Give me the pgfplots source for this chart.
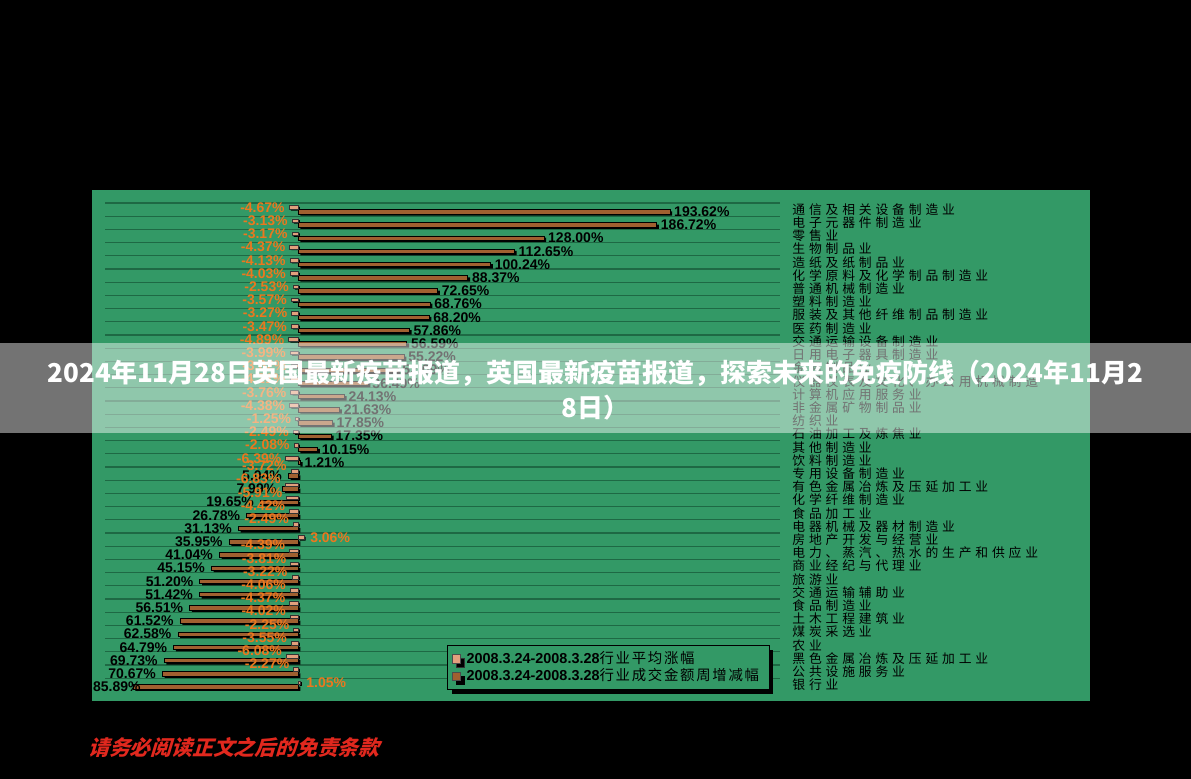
\documentclass[border=0pt]{standalone}
\usepackage{pgfplots}
\pgfplotsset{compat=1.18}
\usepackage{pgfplotstable}
\usepackage{fontspec}
\setmainfont{Liberation Sans}
\newfontfamily\cjk{Noto Sans CJK SC}
\newfontfamily\cjkls{Noto Sans CJK SC}[LetterSpace=30]
\newfontfamily\cjklg{Noto Sans CJK SC}[LetterSpace=12]
\newfontfamily\cjkit{Noto Sans CJK SC}[FakeSlant=0.3]
\usetikzlibrary{shadows}
\definecolor{bggreen}{RGB}{51,153,102}
\definecolor{gridgreen}{RGB}{30,105,68}
\definecolor{avgfill}{RGB}{226,160,125}
\definecolor{volfill}{RGB}{160,96,48}
\definecolor{lblorange}{RGB}{235,120,30}
\definecolor{redtext}{RGB}{225,40,30}

\pgfplotstableread{
i avg vol al vl
1 -4.67 193.62 -4.67 193.62
2 -3.13 186.72 -3.13 186.72
3 -3.17 128.00 -3.17 128.00
4 -4.37 112.65 -4.37 112.65
5 -4.13 100.24 -4.13 100.24
6 -4.03 88.37 -4.03 88.37
7 -2.53 72.65 -2.53 72.65
8 -3.57 68.76 -3.57 68.76
9 -3.27 68.20 -3.27 68.20
10 -3.47 57.86 -3.47 57.86
11 -4.89 56.59 -4.89 56.59
12 -3.99 55.22 -3.99 55.22
13 -3.62 52.09 -3.62 52.09
14 -4.21 36.49 -4.21 36.49
15 -3.76 24.13 -3.76 24.13
16 -4.38 21.63 -4.38 21.63
17 -1.25 17.85 -1.25 17.85
18 -2.49 17.35 -2.49 17.35
19 -2.08 10.15 -2.08 10.15
20 -6.39 1.21 -6.39 1.21
21 -3.72 -5.04 -3.72 5.04
22 -6.83 -7.99 -6.83 7.99
23 -5.91 -19.65 -5.91 19.65
24 -4.42 -26.78 -4.42 26.78
25 -2.49 -31.13 -2.49 31.13
26 3.06 -35.95 3.06 35.95
27 -4.39 -41.04 -4.39 41.04
28 -3.81 -45.15 -3.81 45.15
29 -3.22 -51.20 -3.22 51.20
30 -4.06 -51.42 -4.06 51.42
31 -4.37 -56.51 -4.37 56.51
32 -4.02 -61.52 -4.02 61.52
33 -2.25 -62.58 -2.25 62.58
34 -3.55 -64.79 -3.55 64.79
35 -6.08 -69.73 -6.08 69.73
36 -2.27 -70.67 -2.27 70.67
37 1.05 -85.89 1.05 85.89
}\data

\pgfplotsset{
  lbl/.style={xbar, draw=none, fill=none, forget plot, point meta=explicit symbolic,
    nodes near coords={\pgfplotspointmeta\%},
    every node near coord/.append style={font=\bfseries\fontsize{7}{7}\selectfont, inner sep=2pt}},
}

\begin{document}
\begin{tikzpicture}
\fill[black] (0pt,0pt) rectangle (595.5pt,389.5pt);
\fill[bggreen] (46pt,39pt) rectangle (545pt,294.5pt);
\begin{axis}[
  at={(52.5pt,40.5pt)}, anchor=south west,
  scale only axis, width=337.5pt, height=251.5pt,
  xmin=-100.5, xmax=251, ymin=-0.1, ymax=38, y dir=reverse,
  xbar, bar width=2pt,
  axis line style={draw=none},
  xtick=\empty,
  ytick={1,...,37},
  yticklabels={通信及相关设备制造业,电子元器件制造业,零售业,生物制品业,造纸及纸制品业,化学原料及化学制品制造业,普通机械制造业,塑料制造业,服装及其他纤维制品制造业,医药制造业,交通运输设备制造业,日用电子器具制造业,金属制品业,仪器仪表及文化、办公用机械制造,计算机应用服务业,非金属矿物制品业,纺织业,石油加工及炼焦业,其他制造业,饮料制造业,专用设备制造业,有色金属冶炼及压延加工业,化学纤维制造业,食品加工业,电器机械及器材制造业,房地产开发与经营业,电力、蒸汽、热水的生产和供应业,商业经纪与代理业,旅游业,交通运输辅助业,食品制造业,土木工程建筑业,煤炭采选业,农业,黑色金属冶炼及压延加工业,公共设施服务业,银行业},
  yticklabel pos=right,
  major tick length=0pt, minor tick length=0pt,
  yticklabel style={font=\cjkls\fontsize{6.4}{6.4}\selectfont, anchor=west, xshift=6pt, inner sep=0pt},
  minor ytick={0.5,1.5,...,36.5},
  yminorgrids, minor grid style={draw=gridgreen, line width=0.6pt},
  clip=false,
  legend style={at={(0.507,0.105)}, anchor=north west, fill=bggreen, draw=black,
    drop shadow={shadow xshift=2pt, shadow yshift=-2pt, fill=black, opacity=1},
    font=\fontsize{7.2}{7.6}\selectfont, row sep=0pt, inner xsep=2pt, inner ysep=2.2pt,
    nodes={inner xsep=3pt, inner ysep=0.6pt}},
  legend cell align=left,
  reverse legend,
  legend image code/.code={\draw[#1,draw=black!70] (1pt,-2.1pt) rectangle (5.2pt,2.1pt);},
]
% shadows
\addplot[xbar, fill=black, draw=none, bar width=2.2pt, bar shift=-2.0pt, xshift=1.2pt, forget plot] table[x=vol,y=i]{\data};
\addplot[xbar, fill=black, draw=none, bar width=1.8pt, bar shift=0.4pt, xshift=0.9pt, forget plot] table[x=avg,y=i]{\data};
% volume bars
\addplot[xbar, fill=volfill, draw=black, line width=0.3pt, bar width=2.2pt, bar shift=-1.1pt]
  table[x=vol,y=i]{\data};
\addlegendentry{\textbf{2008.3.24-2008.3.28}{\cjklg 行业成交金额周增减幅}}
% average bars
\addplot[xbar, fill=avgfill, draw=black!80, line width=0.3pt, bar width=1.8pt, bar shift=1.0pt]
  table[x=avg,y=i]{\data};
\addlegendentry{\textbf{2008.3.24-2008.3.28}{\cjklg 行业平均涨幅}}
% volume labels
\addplot[lbl, bar width=2.2pt, bar shift=-1.1pt, restrict x to domain=0:300,
  every node near coord/.append style={anchor=west, text=black}]
  table[x=vol,y=i,meta=vl]{\data};
\addplot[lbl, bar width=2.2pt, bar shift=-1.1pt, restrict x to domain=-300:0, restrict y to domain=20.5:36.5,
  every node near coord/.append style={anchor=east, text=black, xshift=-1pt}]
  table[x=vol,y=i,meta=vl]{\data};
\addplot[lbl, bar width=2.2pt, bar shift=-1.1pt, restrict x to domain=-300:0, restrict y to domain=36.5:40,
  every node near coord/.append style={anchor=east, text=black, xshift=6pt}]
  table[x=vol,y=i,meta=vl]{\data};
% average labels
\addplot[lbl, bar width=1.8pt, bar shift=1.0pt, restrict x to domain=-300:0, restrict y to domain=0:20.5,
  every node near coord/.append style={anchor=east, text=lblorange}]
  table[x=avg,y=i,meta=al]{\data};
\addplot[lbl, bar width=1.8pt, bar shift=1.0pt, restrict x to domain=-300:0, restrict y to domain=20.5:40,
  every node near coord/.append style={anchor=east, text=lblorange, yshift=2.8pt}]
  table[x=avg,y=i,meta=al]{\data};
\addplot[lbl, bar width=1.8pt, bar shift=1.0pt, restrict x to domain=0:300,
  every node near coord/.append style={anchor=west, text=lblorange, xshift=1pt}]
  table[x=avg,y=i,meta=al]{\data};
\end{axis}
\fill[white,opacity=0.45] (0pt,173pt) rectangle (595.5pt,218pt);
\node[text=white, font=\cjk\bfseries\fontsize{13}{13}\selectfont, inner sep=0pt] at (297.75pt,203pt) {2024年11月28日英国最新疫苗报道，英国最新疫苗报道，探索未来的免疫防线（2024年11月2};
\node[text=white, font=\cjk\bfseries\fontsize{13}{13}\selectfont, inner sep=0pt] at (297.75pt,185.5pt) {8日）};
\node[anchor=west, text=redtext, font=\cjkit\bfseries\fontsize{10.4}{10.4}\selectfont, inner sep=0pt] at (44pt,15.5pt) {请务必阅读正文之后的免责条款};
\end{tikzpicture}
\end{document}
